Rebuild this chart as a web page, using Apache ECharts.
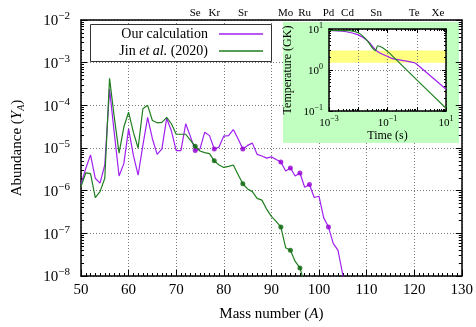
<!DOCTYPE html>
<html><head><meta charset="utf-8">
<script src="https://cdn.jsdelivr.net/npm/echarts@6/dist/echarts.min.js"></script>
<style>html,body{margin:0;padding:0;background:#fff}#c{width:476px;height:327px}</style>
</head><body><div id="c"></div>
<script>
// ---- data ----
const seriesNames = ['Our calculation', 'Jin et al. (2020)'];
const massPurple = [50,51,52,53,54,55,56,57,58,59,60,61,62,63,64,65,66,67,68,69,70,71,72,73,74,75,76,77,78,79,80,81,82,83,84,85,86,87,88,89,90,91,92,93,94,95,96,97,98,99,100,101,102,103,104,105,106];
const abundPurple = [1.4e-6,3.3e-6,6.9e-6,1.95e-6,1.5e-6,4.0e-6,2.4e-4,2.2e-5,2.2e-6,4.3e-6,
  2.8e-5,6.8e-6,2.3e-6,1.15e-5,5.2e-5,1.65e-5,7.1e-6,9.5e-6,5.0e-5,2.5e-5,
  8.7e-6,8.7e-6,3.7e-5,1.85e-5,8.7e-6,9.5e-6,2.35e-5,1.95e-5,9.5e-6,1.05e-5,
  1.9e-5,1.95e-5,2.7e-5,1.65e-5,9.5e-6,1.15e-5,1.3e-5,7.1e-6,6.5e-6,5.8e-6,
  6.2e-6,5.4e-6,4.7e-6,2.9e-6,3.4e-6,2.2e-6,2.6e-6,1.2e-6,1.4e-6,6.9e-7,
  7.4e-7,2.3e-7,1.4e-7,5.8e-8,4.0e-8,1.07e-8,2.5e-9];
const massGreen = [50,51,52,53,54,55,56,57,58,59,60,61,62,63,64,65,66,67,68,69,70,71,72,73,74,75,76,77,78,79,80,81,82,83,84,85,86,87,88,89,90,91,92,93,94,95,96,97];
const abundGreen = [1.25e-6,2.6e-6,2.5e-6,6.9e-7,9.5e-7,1.95e-6,4.3e-4,5.2e-5,7.6e-6,3.1e-5,
  6.9e-5,2.35e-5,1.0e-5,8.3e-5,1.0e-4,4.4e-5,3.9e-5,4.0e-5,5.2e-5,3.7e-5,
  2.1e-5,2.1e-5,2.1e-5,1.5e-5,1.1e-5,8.5e-6,7.8e-6,7.4e-6,5.0e-6,4.0e-6,
  3.5e-6,3.7e-6,4.0e-6,2.4e-6,1.45e-6,1.1e-6,9.5e-7,6.6e-7,6.0e-7,3.7e-7,
  2.5e-7,1.9e-7,1.4e-7,4.6e-8,4.0e-8,2.2e-8,1.55e-8,6.3e-9];
const pNucleiPurple = [74,78,84,92,94,96,98,102];
const pNucleiGreen = [74,78,84,92,94,96];
const elementMass = [74,78,84,93,97,102,106,112,120,125];
const elementNames = ['Se','Kr','Sr','Mo','Ru','Pd','Cd','Sn','Te','Xe'];
// inset: temperature history
const timePurple = [0.001,0.0035,0.01,0.022,0.039,0.055,0.1,0.16,0.4,0.83,1.0,10];
const tempPurple = [9.2,8.7,7.2,5.0,3.1,2.6,2.15,1.86,1.67,1.5,1.38,0.34];
const timeGreen = [0.001,0.005,0.01,0.019,0.032,0.039,0.046,0.066,0.107,1.0,10];
const tempGreen = [9.2,9.1,8.1,5.5,3.3,2.95,3.9,3.55,2.73,0.575,0.117];
const bandLow = 1.5, bandHigh = 3.0;

// ---- styles ----
const F = "'Liberation Serif', 'DejaVu Serif', serif";
const C_P = '#a020f0', C_PD = '#9400d3', C_G = '#1f7f1f', C_GD = '#0a640a';
const gridLine = {show:true, lineStyle:{color:'#777', type:[1,2], width:1}};
function supRich(big, small){
  return { b:{fontFamily:F, fontSize:big, color:'#000', lineHeight:big+3, verticalAlign:'bottom'},
           s:{fontFamily:F, fontSize:small, color:'#000', lineHeight:small, verticalAlign:'top'} };
}
function pow10(v){ const e=Math.round(Math.log10(v)); return '{b|10}{s|'+(e<0?'\u2212':'')+Math.abs(e)+'}'; }
function pow10Odd(v){ const e=Math.round(Math.log10(v)); if (Math.abs(e)%2===0) return ''; return pow10(v); }
const lineBlack = {color:'#000', width:1.5};
const tickBlack = {color:'#000', width:1};

const pairs = (xs, ys) => xs.map((x,i)=>[x, ys[i]]);
const pick = (list, xs, ys) => list.map(m => [m, ys[xs.indexOf(m)]]);

const chart = echarts.init(document.getElementById('c'), null, {renderer:'canvas'});
chart.setOption({
  animation:false,
  backgroundColor:'#fff',
  grid:[
    {left:81, right:14, top:20, bottom:49},
    {left:329, top:29, width:117, height:82, show:true, backgroundColor:'#fff', borderWidth:0, z:10}
  ],
  graphic:{elements:[
    {type:'rect', z:3, shape:{x:283, y:22, width:176, height:121}, style:{fill:'#c0ffc0'}},
    {type:'rect', z:3, shape:{x:90.5, y:24.5, width:181, height:37}, style:{fill:'#fff', stroke:'#333', lineWidth:1}}
  ]},
  legend:[
    {data:[seriesNames[0]], z:5, right:213, top:27, padding:0, align:'right', icon:'rect', itemWidth:44, itemHeight:1.3,
     textStyle:{fontFamily:F, fontSize:14, color:'#000', padding:[0,6,0,0]}},
    {data:[seriesNames[1]], z:5, right:213, top:44, padding:0, align:'right', icon:'rect', itemWidth:44, itemHeight:1.3,
     formatter:()=>'{n|Jin }{i|et al.}{n| (2020)}',
     textStyle:{fontFamily:F, fontSize:14, color:'#000', padding:[0,6,0,0],
       rich:{n:{fontFamily:F, fontSize:14, color:'#000'}, i:{fontFamily:F, fontSize:14, fontStyle:'italic', color:'#000'}}}}
  ],
  xAxis:[
    {type:'value', gridIndex:0, position:'bottom', min:50, max:130, interval:10,
     axisLine:{show:true, onZero:false, lineStyle:lineBlack},
     axisTick:{show:true, inside:true, length:6, lineStyle:tickBlack},
     minorTick:{show:true, splitNumber:10, length:3, lineStyle:tickBlack},
     splitLine:gridLine,
     axisLabel:{fontFamily:F, fontSize:15, color:'#000', margin:7},
     name:'{n|Mass number (}{i|A}{n|)}', nameLocation:'middle', nameGap:31,
     nameTextStyle:{rich:{n:{fontFamily:F, fontSize:15, color:'#000'}, i:{fontFamily:F, fontSize:15, fontStyle:'italic', color:'#000'}}}},
    {type:'value', gridIndex:0, position:'top', min:50, max:130, interval:1, z:4,
     axisLine:{show:true, onZero:false, lineStyle:lineBlack},
     axisTick:{show:false}, splitLine:{show:false},
     axisLabel:{fontFamily:F, fontSize:11, color:'#000', margin:1,
       formatter:v=>{const k=elementMass.indexOf(Math.round(v)); return k<0?'':elementNames[k];}}},
    {type:'log', logBase:10, gridIndex:1, position:'bottom', min:1e-3, max:10, z:12,
     axisLine:{show:true, onZero:false, lineStyle:lineBlack},
     axisTick:{show:true, inside:true, length:4, lineStyle:tickBlack},
     minorTick:{show:true, splitNumber:9, length:2, lineStyle:tickBlack},
     splitLine:gridLine,
     axisLabel:{formatter:pow10Odd, rich:supRich(11,8), margin:4},
     name:'Time (s)', nameLocation:'middle', nameGap:14,
     nameTextStyle:{fontFamily:F, fontSize:12, color:'#000'}},
    {type:'log', logBase:10, gridIndex:1, position:'top', min:1e-3, max:10, z:12,
     axisLine:{show:true, onZero:false, lineStyle:lineBlack},
     axisTick:{show:true, inside:true, length:4, lineStyle:tickBlack},
     minorTick:{show:true, splitNumber:9, length:2, lineStyle:tickBlack},
     splitLine:{show:false}, axisLabel:{show:false}}
  ],
  yAxis:[
    {type:'log', logBase:10, gridIndex:0, position:'left', min:1e-8, max:1e-2,
     axisLine:{show:true, onZero:false, lineStyle:lineBlack},
     axisTick:{show:true, inside:true, length:6, lineStyle:tickBlack},
     minorTick:{show:true, splitNumber:9, length:3, lineStyle:tickBlack},
     splitLine:gridLine,
     axisLabel:{formatter:pow10, rich:supRich(15,11), margin:11},
     name:'{n|Abundance (}{i|Y}{s|A}{n|)}', nameLocation:'middle', nameGap:55,
     nameTextStyle:{rich:{n:{fontFamily:F, fontSize:15, color:'#000', lineHeight:18},
       i:{fontFamily:F, fontSize:15, fontStyle:'italic', color:'#000', lineHeight:18},
       s:{fontFamily:F, fontSize:10, fontStyle:'italic', color:'#000', lineHeight:12, verticalAlign:'bottom'}}}},
    {type:'log', logBase:10, gridIndex:0, position:'right', min:1e-8, max:1e-2, z:4,
     axisLine:{show:true, onZero:false, lineStyle:lineBlack},
     axisTick:{show:true, inside:true, length:6, lineStyle:tickBlack},
     minorTick:{show:true, splitNumber:9, length:3, lineStyle:tickBlack},
     splitLine:{show:false}, axisLabel:{show:false}},
    {type:'log', logBase:10, gridIndex:1, position:'left', min:0.1, max:10, z:12,
     axisLine:{show:true, onZero:false, lineStyle:lineBlack},
     axisTick:{show:true, inside:true, length:4, lineStyle:tickBlack},
     minorTick:{show:true, splitNumber:9, length:2, lineStyle:tickBlack},
     splitLine:gridLine,
     axisLabel:{formatter:pow10, rich:supRich(11,8), margin:6},
     name:'Temperature (GK)', nameLocation:'middle', nameGap:35,
     nameTextStyle:{fontFamily:F, fontSize:12, color:'#000'}},
    {type:'log', logBase:10, gridIndex:1, position:'right', min:0.1, max:10, z:12,
     axisLine:{show:true, onZero:false, lineStyle:lineBlack},
     axisTick:{show:true, inside:true, length:4, lineStyle:tickBlack},
     minorTick:{show:true, splitNumber:9, length:2, lineStyle:tickBlack},
     splitLine:{show:false}, axisLabel:{show:false}}
  ],
  series:[
    {name:seriesNames[0], type:'line', xAxisIndex:0, yAxisIndex:0, z:2, symbol:'none', showSymbol:false,
     lineStyle:{color:C_P, width:1.2}, itemStyle:{color:C_P}, data:pairs(massPurple, abundPurple)},
    {name:seriesNames[1], type:'line', xAxisIndex:0, yAxisIndex:0, z:2, symbol:'none', showSymbol:false,
     lineStyle:{color:C_G, width:1.2}, itemStyle:{color:C_G}, data:pairs(massGreen, abundGreen)},
    {name:'p-nuclei (ours)', type:'scatter', xAxisIndex:0, yAxisIndex:0, z:2, symbolSize:5,
     itemStyle:{color:C_PD}, data:pick(pNucleiPurple, massPurple, abundPurple)},
    {name:'p-nuclei (Jin)', type:'scatter', xAxisIndex:0, yAxisIndex:0, z:2, symbolSize:5,
     itemStyle:{color:C_GD}, data:pick(pNucleiGreen, massGreen, abundGreen)},
    {name:'T ours', type:'line', xAxisIndex:2, yAxisIndex:2, z:13, symbol:'none', smooth:0.3,
     lineStyle:{color:C_P, width:1.2}, data:pairs(timePurple, tempPurple),
     markArea:{silent:true, z:11, itemStyle:{color:'#ffff80', opacity:1}, data:[[{yAxis:bandLow},{yAxis:bandHigh}]]}},
    {name:'T Jin', type:'line', xAxisIndex:2, yAxisIndex:2, z:13, symbol:'none', smooth:0.2,
     lineStyle:{color:C_G, width:1.2}, data:pairs(timeGreen, tempGreen)}
  ]
});
</script></body></html>
